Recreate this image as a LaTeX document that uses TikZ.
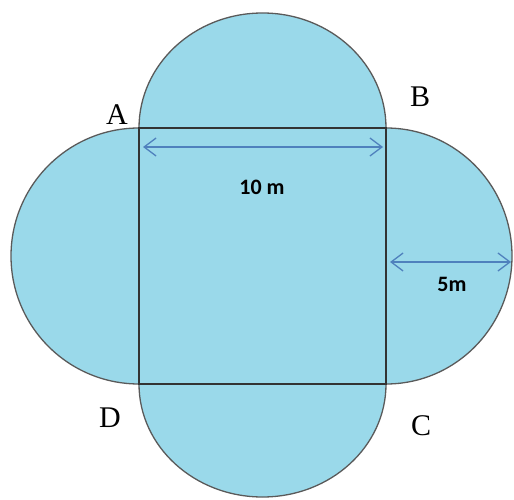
\documentclass[tikz,border=0pt]{standalone}
\usepackage{fontspec}
\setmainfont{Liberation Serif}
\newfontfamily\dimfont{Carlito}
\usetikzlibrary{arrows.meta}

\definecolor{pool}{RGB}{154,217,234}
\definecolor{rim}{RGB}{90,90,90}
\definecolor{dimblue}{RGB}{79,129,189}

\tikzset{
    corner/.style={font=\fontsize{30}{30}\selectfont},
    dimline/.style={dimblue, line width=1.3pt, {Straight Barb[length=12pt,width=18pt]}-{Straight Barb[length=12pt,width=18pt]}},
    dimtext/.style={font=\dimfont\bfseries\fontsize{22}{22}\selectfont}
}

\begin{document}
\begin{tikzpicture}[x=1pt, y=1pt]

    \useasboundingbox (0,0) rectangle (514,499);

    % square ABCD
    \coordinate (A) at (139,371);
    \coordinate (B) at (386,371);
    \coordinate (C) at (386,115);
    \coordinate (D) at (139,115);

    % four half discs on the sides
    \fill[pool, draw=rim, line width=1.3pt] (A)
        arc[start angle=180, end angle=0, x radius=123.5, y radius=115]
        arc[start angle=90, end angle=-90, x radius=126, y radius=128]
        arc[start angle=0, end angle=-180, x radius=123.5, y radius=113]
        arc[start angle=270, end angle=90, x radius=128, y radius=128]
        -- cycle;

    % the square itself
    \draw[line width=1.6pt, black!80] (A) -- (B) -- (C) -- (D) -- cycle;

    % corner letters
    \node[corner] (lA) at (117,384) {A};
    \node[corner] (lB) at (420,402) {B};
    \node[corner] (lC) at (421,73) {C};
    \node[corner] (lD) at (110,81) {D};

    % side length
    \coordinate (s1) at (143,352);
    \coordinate (s2) at (383,352);
    \draw[dimline] (s1) -- (s2);
    \node[dimtext] (side) at (262,312) {10 m};

    % radius
    \coordinate (r1) at (390,237);
    \coordinate (r2) at (511,237);
    \draw[dimline] (r1) -- (r2);
    \node[dimtext] (rad) at (452,215) {5m};

\end{tikzpicture}
\end{document}
